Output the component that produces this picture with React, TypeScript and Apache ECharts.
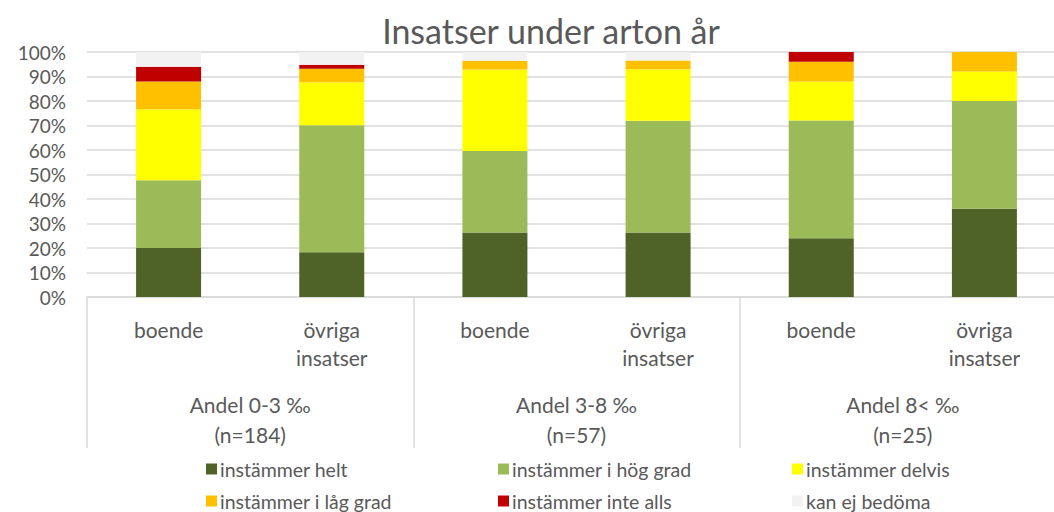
import React, { useEffect, useRef } from "react";
import * as echarts from "echarts";

const categories = ["boende", "övriga\ninsatser", "boende", "övriga\ninsatser", "boende", "övriga\ninsatser"];
const groups = ["Andel 0-3 ‰\n(n=184)", "Andel 3-8 ‰\n(n=57)", "Andel 8< ‰\n(n=25)"];
const seriesNames = ["instämmer helt", "instämmer i hög grad", "instämmer delvis", "instämmer i låg grad", "instämmer inte alls", "kan ej bedöma"];
const helt = [20.0, 18.3, 26.3, 26.3, 24, 36];
const hogGrad = [27.7, 51.8, 33.3, 45.6, 48, 44];
const delvis = [28.9, 17.6, 33.3, 21.1, 16, 12];
const lagGrad = [11.4, 5.5, 3.5, 3.5, 8, 8];
const inteAlls = [6.0, 1.6, 0, 0, 4, 0];
const kanEj = [6.0, 5.2, 3.6, 3.5, 0, 0];

const colors = ["#4F6228", "#9BBB59", "#FFFF00", "#FFC000", "#C00000", "#F2F2F2"];
const FONT = "Lato";
const TXT = "#595959";

export default function App() {
  const ref = useRef<HTMLDivElement>(null);
  useEffect(() => {
    if (!ref.current) return;
    const chart = echarts.init(ref.current, undefined, { renderer: "svg" });
    const values = [helt, hogGrad, delvis, lagGrad, inteAlls, kanEj];
    const legendPos = [
      [206, 459], [498, 459], [792, 459],
      [206, 491], [498, 491], [792, 491],
    ];
    chart.setOption({
      animation: false,
      textStyle: { fontFamily: FONT },
      title: {
        text: "Insatser under arton år",
        left: 546,
        top: 8,
        textAlign: "center",
        textStyle: { fontFamily: FONT, fontSize: 34, fontWeight: "normal", color: TXT },
      },
      legend: seriesNames.map((n, i) => ({
        data: [n],
        left: legendPos[i][0],
        top: legendPos[i][1],
        icon: "rect",
        itemWidth: 11,
        itemHeight: 11,
        padding: 0,
        textStyle: { fontFamily: FONT, fontSize: 19.5, color: TXT, padding: [0, 0, 0, -2] },
      })),
      grid: { left: 87, right: 0, top: 52, bottom: 215 },
      xAxis: [
        {
          type: "category",
          data: categories,
          position: "bottom",
          axisLine: { show: true, lineStyle: { color: "#d9d9d9", width: 1.5 } },
          axisTick: { show: false },
          axisLabel: { fontFamily: FONT, fontSize: 21, color: TXT, margin: 18, lineHeight: 28, interval: 0 },
        },
        {
          type: "category",
          data: groups,
          position: "bottom",
          axisLine: { show: false },
          axisTick: { show: true, length: 151, lineStyle: { color: "#d9d9d9", width: 1.5 } },
          axisLabel: { fontFamily: FONT, fontSize: 21, color: TXT, margin: 92, lineHeight: 30, interval: 0 },
        },
      ],
      yAxis: {
        type: "value",
        min: 0,
        max: 100,
        interval: 10,
        axisLine: { show: false },
        axisTick: { show: false },
        axisLabel: { formatter: "{value}%", fontFamily: FONT, fontSize: 19, color: TXT, margin: 21 },
        splitLine: { lineStyle: { color: "#d9d9d9", width: 1.5 } },
      },
      series: seriesNames.map((n, i) => ({
        name: n,
        type: "bar",
        stack: "total",
        barWidth: 65,
        xAxisIndex: 0,
        itemStyle: { color: colors[i] },
        data: values[i],
      })),
    });
    return () => chart.dispose();
  }, []);
  return (
    <div style={{ position: "fixed", left: 0, top: 0, width: 1054, height: 512, overflow: "hidden", background: "#fff" }}>
      <div ref={ref} style={{ width: 1066, height: 512 }} />
    </div>
  );
}
